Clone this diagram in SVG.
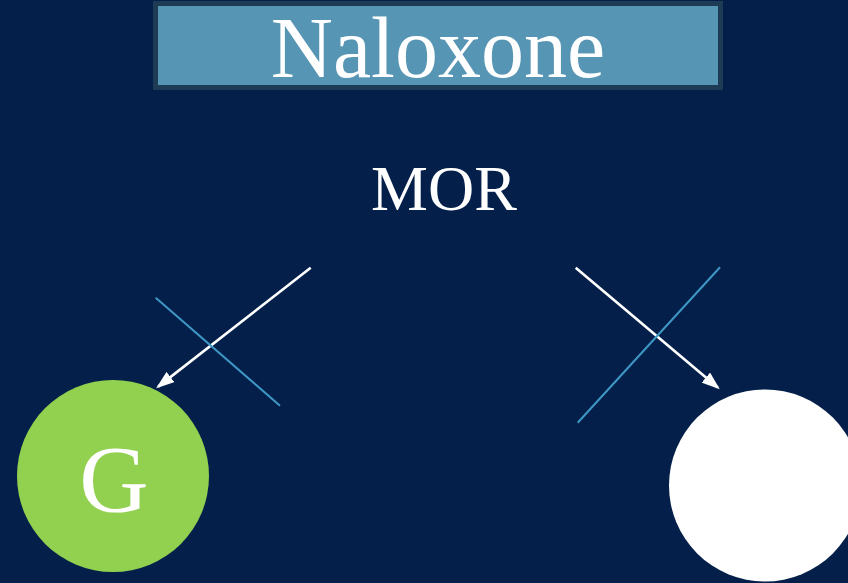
<svg xmlns="http://www.w3.org/2000/svg" width="848" height="583" viewBox="0 0 848 583">
<style>
.t{font-family:"Liberation Serif","Times New Roman",serif;fill:#ffffff;text-anchor:middle}
.arr{stroke:#ffffff;stroke-width:2.6;fill:none}
.x{stroke:#3e97c5;stroke-width:2;fill:none}
</style>
<defs>
<marker id="ah" markerWidth="7" markerHeight="5" refX="6" refY="2.5" orient="auto" markerUnits="strokeWidth">
<path d="M0,0 L7,2.5 L0,5 Z" fill="#ffffff"/>
</marker>
</defs>
<rect width="848" height="583" fill="#04204a"/>
<g id="title">
<rect x="155.5" y="3.5" width="565" height="84" fill="#5695b4" stroke="#1e3b55" stroke-width="5"/>
<text class="t" x="438" y="77" font-size="86">Naloxone</text>
</g>
<g id="mor">
<text class="t" x="444" y="210" font-size="64">MOR</text>
</g>
<g id="g-node">
<circle cx="113" cy="476" r="96" fill="#92d050"/>
<text class="t" x="114" y="512" font-size="96">G</text>
</g>
<g id="white-node">
<circle cx="765" cy="485.5" r="96" fill="#ffffff"/>
</g>
<g id="connectors">
<line class="arr" x1="310.7" y1="267.7" x2="158.2" y2="386.6" marker-end="url(#ah)"/>
<line class="arr" x1="575.7" y1="267.7" x2="717.8" y2="387.6" marker-end="url(#ah)"/>
<line class="x" x1="155.7" y1="297.7" x2="280" y2="405.7"/>
<line class="x" x1="720" y1="267.3" x2="577.7" y2="422.7"/>
</g>
</svg>
